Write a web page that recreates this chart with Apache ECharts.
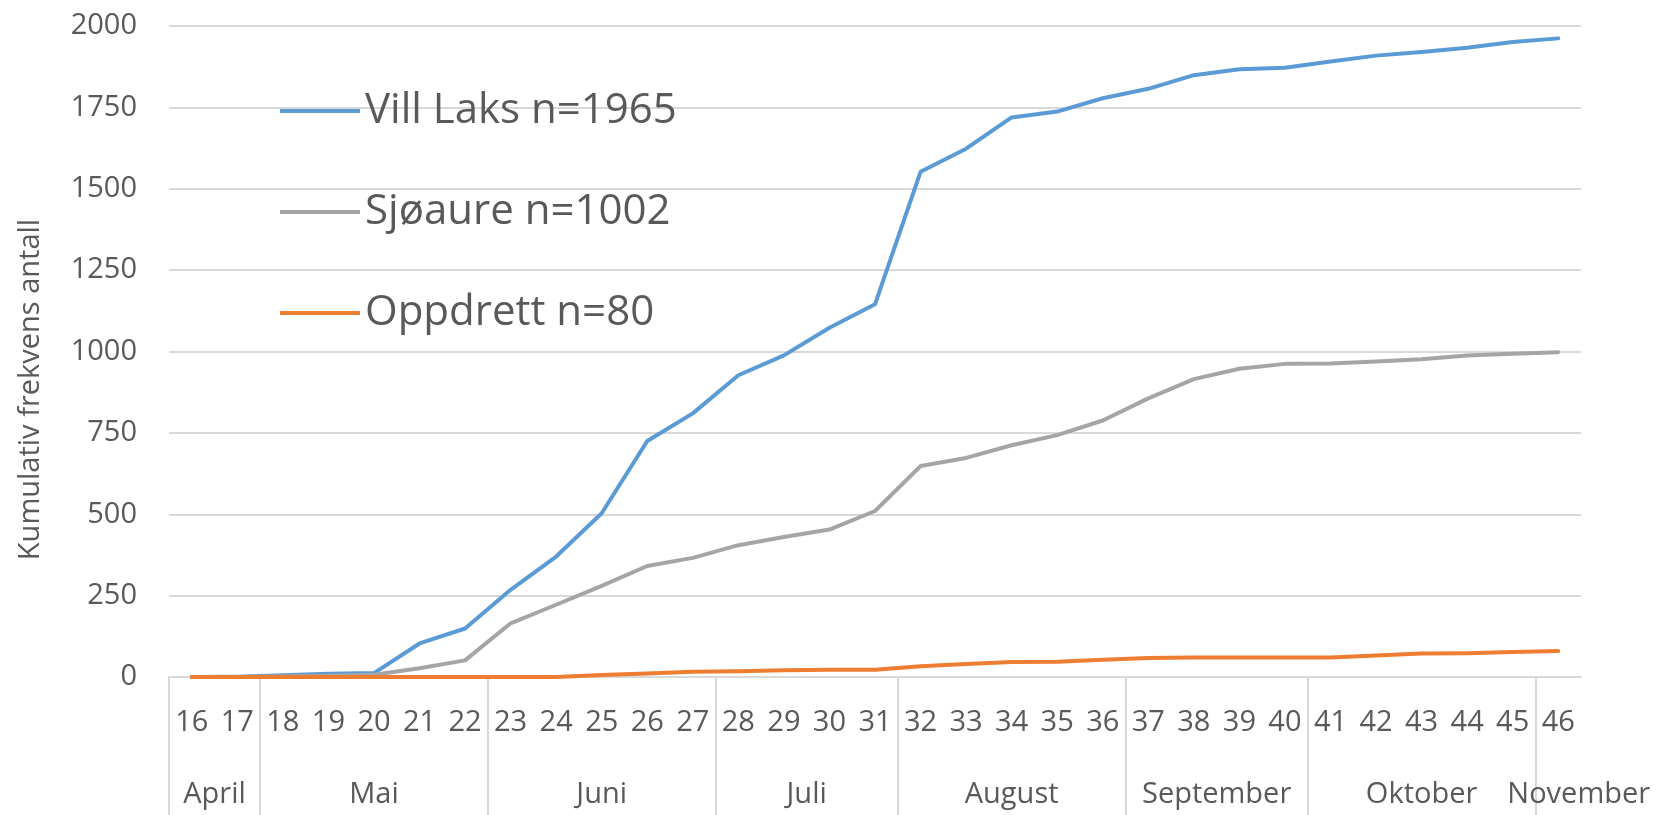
<!DOCTYPE html>
<html>
<head>
    <meta charset="utf-8">
    <title>Kumulativ frekvens</title>
    <script src="https://cdn.jsdelivr.net/npm/echarts@6.0.0/dist/echarts.min.js"></script>
    <style>
        html, body {
            margin: 0;
            padding: 0;
            background: #ffffff;
        }
        #chart {
            width: 1672px;
            height: 815px;
        }
    </style>
</head>
<body>
    <div id="chart"></div>

    <script>
        // uker 16-46
        var weeks = ['16', '17', '18', '19', '20', '21', '22', '23', '24', '25', '26',
            '27', '28', '29', '30', '31', '32', '33', '34', '35', '36',
            '37', '38', '39', '40', '41', '42', '43', '44', '45', '46'];

        // måneder med første og siste uke
        var monthNames = ['April', 'Mai', 'Juni', 'Juli', 'August', 'September', 'Oktober', 'November'];
        var monthFirstWeek = [16, 18, 23, 28, 32, 37, 41, 46];
        var monthLastWeek = [17, 22, 27, 31, 36, 40, 45, 46];

        var yTicks = [0, 250, 500, 750, 1000, 1250, 1500, 1750, 2000];

        var seriesNames = ['Vill Laks n=1965', 'Sjøaure n=1002', 'Oppdrett n=80'];
        var seriesColors = ['#5B9BD5', '#A5A5A5', '#ED7D31'];

        var villLaks = [0, 1, 5, 10, 12, 103, 149, 268, 370, 503, 725, 810, 927, 988, 1073, 1145,
            1552, 1623, 1719, 1737, 1778, 1807, 1849, 1867, 1872, 1891, 1909, 1920, 1933, 1951, 1962];
        var sjoaure = [0, 0, 2, 4, 7, 27, 51, 165, 222, 280, 341, 366, 405, 430, 453, 510,
            648, 673, 712, 743, 788, 856, 915, 947, 962, 963, 969, 976, 988, 993, 998];
        var oppdrett = [0, 0, 0, 0, 0, 0, 0, 0, 0, 6, 11, 16, 18, 21, 22, 22,
            33, 40, 46, 47, 53, 58, 60, 60, 60, 60, 66, 72, 73, 77, 80];

        var FONT = "'Open Sans', 'Noto Sans', sans-serif";
        var TEXT = '#595959';
        var GRID = '#D9D9D9';

        // posisjon på indeksaksen (uke 16 = 0)
        var firstWeek = parseInt(weeks[0], 10);
        var monthCenters = monthNames.map(function (m, i) {
            var c = ((monthFirstWeek[i] - firstWeek) + (monthLastWeek[i] - firstWeek)) / 2;
            // siste måned: Excel skyver etiketten litt mot høyre
            return i === monthNames.length - 1 ? c + 0.45 : c;
        });
        var monthBounds = monthFirstWeek.map(function (w) { return w - firstWeek - 0.5; });

        var chart = echarts.init(document.getElementById('chart'));

        var option = {
            animation: false,
            textStyle: { fontFamily: FONT },
            grid: {
                left: 169,
                right: 91,
                top: 26,
                bottom: 138,
                containLabel: false
            },
            legend: {
                orient: 'vertical',
                left: 280,
                top: 86,
                padding: 0,
                icon: 'rect',
                itemWidth: 80,
                itemHeight: 4,
                itemGap: 51,
                data: seriesNames,
                textStyle: {
                    fontFamily: FONT,
                    fontSize: 42,
                    lineHeight: 50,
                    color: TEXT
                }
            },
            xAxis: [
                {
                    type: 'category',
                    data: weeks,
                    boundaryGap: true,
                    axisLine: { lineStyle: { color: GRID, width: 2 } },
                    axisTick: { show: false },
                    axisLabel: {
                        interval: 0,
                        margin: 31,
                        fontSize: 29,
                        lineHeight: 30,
                        color: TEXT,
                        fontFamily: FONT
                    },
                    splitLine: { show: false }
                },
                {
                    // månedsnivå
                    type: 'value',
                    position: 'bottom',
                    min: -0.5,
                    max: weeks.length - 0.5,
                    axisLine: { show: false },
                    splitLine: { show: false },
                    axisTick: {
                        show: true,
                        customValues: monthBounds,
                        length: 140,
                        lineStyle: { color: GRID, width: 2 }
                    },
                    axisLabel: {
                        customValues: monthCenters,
                        margin: 103,
                        fontSize: 29,
                        lineHeight: 30,
                        color: TEXT,
                        fontFamily: FONT,
                        formatter: function (v) {
                            for (var i = 0; i < monthCenters.length; i++) {
                                if (Math.abs(monthCenters[i] - v) < 1e-6) return monthNames[i];
                            }
                            return '';
                        }
                    }
                }
            ],
            yAxis: {
                type: 'value',
                min: yTicks[0],
                max: yTicks[yTicks.length - 1],
                interval: yTicks[1] - yTicks[0],
                name: 'Kumulativ frekvens antall',
                nameLocation: 'middle',
                nameGap: 124,
                nameTextStyle: {
                    fontSize: 29,
                    color: TEXT,
                    fontFamily: FONT,
                    padding: [0, 76, 0, 0]
                },
                axisLine: { show: false },
                axisTick: { show: false },
                axisLabel: {
                    margin: 32,
                    fontSize: 29,
                    color: TEXT,
                    fontFamily: FONT,
                    formatter: function (v) { return String(v); }
                },
                splitLine: { lineStyle: { color: GRID, width: 2 } }
            },
            series: [villLaks, sjoaure, oppdrett].map(function (d, i) {
                return {
                    name: seriesNames[i],
                    type: 'line',
                    xAxisIndex: 0,
                    data: d,
                    symbol: 'none',
                    color: seriesColors[i],
                    lineStyle: { width: 4, color: seriesColors[i], cap: 'round', join: 'round' }
                };
            })
        };

        chart.setOption(option);
    </script>
</body>
</html>
